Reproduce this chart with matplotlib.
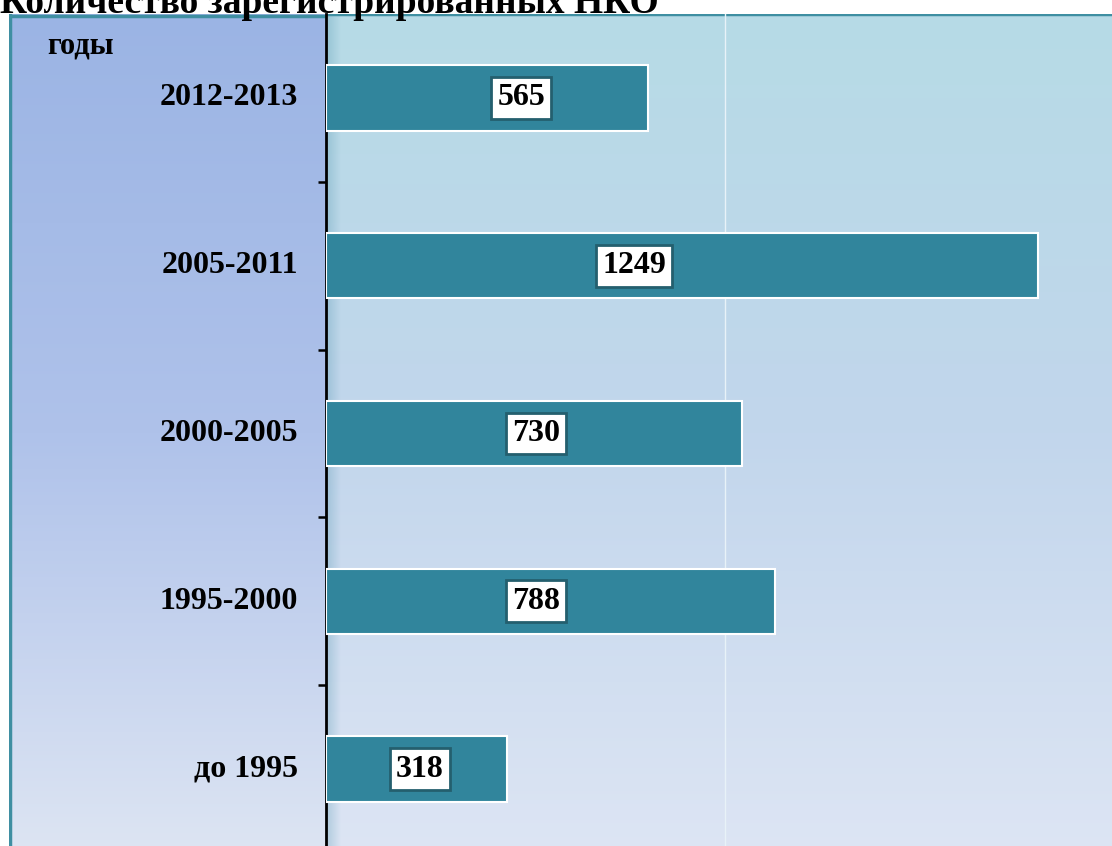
import numpy as np
import matplotlib.pyplot as plt
from matplotlib.colors import LinearSegmentedColormap

plt.rcParams['font.family'] = ['Liberation Serif', 'DejaVu Serif']

categories = ["до 1995", "1995-2000", "2000-2005", "2005-2011", "2012-2013"]
values = [318, 788, 730, 1249, 565]
label_x = [165, 368, 368, 540, 342]

title = "Количество зарегистрированных НКО"
axis_label = "годы"

W, H = 1112, 846
fig = plt.figure(figsize=(W / 100, H / 100), dpi=100)
fig.patch.set_facecolor("white")

top = 1 - 14 / H
bottom = 1 - 853 / H

# left panel with gradient
panel = fig.add_axes([9 / W, bottom, (326 - 9) / W, top - bottom])
grad = np.linspace(0, 1, 256).reshape(-1, 1)
panel_cmap = LinearSegmentedColormap.from_list("panel", ["#9bb4e4", "#afc2ea", "#dde5f3"])
panel.imshow(grad, aspect="auto", cmap=panel_cmap, extent=[0, 1, 0, 1], origin="upper")
panel.set_xlim(0, 1)
panel.set_ylim(0, 1)
panel.set_xticks([])
panel.set_yticks([])
for s in panel.spines.values():
    s.set_visible(False)
panel.axvline(0.002, color="#3f8fa2", lw=2.5)
panel.axhline(0.998, color="#3f8fa2", lw=2.5)

ax = fig.add_axes([326 / W, bottom, 1 - 326 / W, top - bottom])
plot_cmap = LinearSegmentedColormap.from_list("plot", ["#b6dbe6", "#c2d6ec", "#dde5f4"])
ax.imshow(grad, aspect="auto", cmap=plot_cmap, extent=[0, 1378, -0.5, 4.5],
          origin="upper", zorder=0)
# soft shadow next to the axis
shade = np.linspace(0, 1, 64).reshape(1, -1)
shade_cmap = LinearSegmentedColormap.from_list(
    "shade", [(0.35, 0.6, 0.7, 0.35), (0.35, 0.6, 0.7, 0.0)])
ax.imshow(shade, aspect="auto", cmap=shade_cmap, extent=[0, 25, -0.5, 4.5], zorder=0.5)
ax.axhline(4.5, color="#3f8fa2", lw=2.5, zorder=1)

y = np.arange(len(categories))
ax.barh(y, values, height=0.39, color="#31859c", edgecolor="white", linewidth=1.5, zorder=3)
ax.axvline(700, color="#e8f2f8", lw=1, zorder=1)

for yi, v, lx in zip(y, values, label_x):
    ax.text(lx, yi, str(v), ha="center", va="center", fontsize=23, fontweight="bold",
            zorder=4,
            bbox=dict(boxstyle="square,pad=0.2", facecolor="white",
                      edgecolor="#245f6e", linewidth=2))

ax.set_xlim(0, 1378)
ax.set_ylim(-0.5, 4.5)
ax.set_xticks([])
ax.set_yticks(np.arange(-0.5, 4.6, 1.0)[1:-1])
ax.set_yticklabels([])
ax.tick_params(axis="y", direction="out", length=6, width=1.8, color="black")
for s in ["top", "right", "bottom"]:
    ax.spines[s].set_visible(False)
ax.spines["left"].set_linewidth(2)
ax.spines["left"].set_color("black")

for yi, c in zip(y, categories):
    ax.annotate(c, xy=(0, yi), xytext=(-20, 0), textcoords="offset points",
                xycoords="data", ha="right", va="center",
                fontsize=23, fontweight="bold", annotation_clip=False)

fig.text(47 / W, 1 - 46 / H, axis_label, ha="left", va="center",
         fontsize=22, fontweight="bold")

fig.text(0.0, 1 - 13 / H, title, ha="left", va="baseline",
         fontsize=27, fontweight="bold")

fig.savefig("out.png", dpi=100)
